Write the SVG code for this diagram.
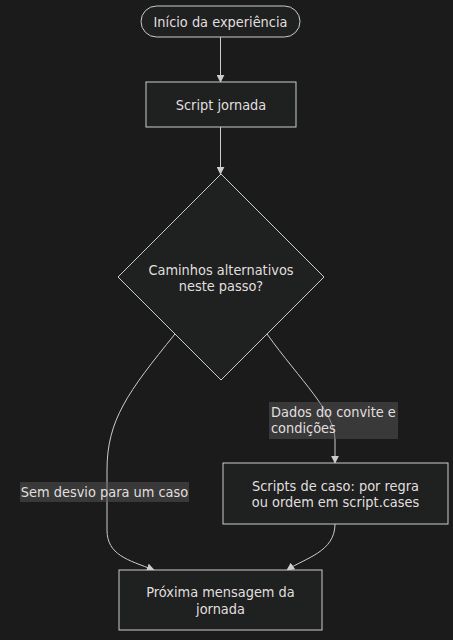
<svg xmlns="http://www.w3.org/2000/svg" width="453" height="640" viewBox="0 0 453 640">
<style>
.bg{fill:#1b1b1b}
.node{fill:#1f2020;stroke:#cccccc;stroke-width:1}
.t{font-family:"DejaVu Sans Condensed","DejaVu Sans",sans-serif;font-size:14.4px;fill:#e0dfdf;text-anchor:middle;dominant-baseline:central}
.lt{text-anchor:start}
.edge{fill:none;stroke:#cccccc;stroke-width:1}
.lbl{fill:#585858;fill-opacity:0.5}
</style>
<defs>
<marker id="arr" viewBox="0 0 10 10" refX="9" refY="5" markerWidth="8" markerHeight="8" markerUnits="userSpaceOnUse" orient="auto">
<path d="M0,0 L10,5 L0,10 z" fill="#cccccc"/>
</marker>
</defs>
<rect class="bg" width="453" height="640"/>
<g id="connectors">
<path class="edge" d="M220.5,37 L220.5,82" marker-end="url(#arr)"/>
<path class="edge" d="M220.5,127 L220.5,174" marker-end="url(#arr)"/>
<path class="edge" d="M175,334 C128,392 107,420 107,470 L107,530 C107,555 128,560 154,570" marker-end="url(#arr)"/>
<path class="edge" d="M267,334 C300,380 335,412 335,440 L335,463" marker-end="url(#arr)"/>
<path class="edge" d="M335,524 C335,552 305,558 287,570" marker-end="url(#arr)"/>
</g>
<g id="edge-labels">
<g id="label-dados">
<rect class="lbl" x="269" y="402" width="129" height="37"/>
<text class="t lt" x="271" y="412">Dados do convite e</text>
<text class="t lt" x="271" y="428">condições</text>
</g>
<g id="label-sem">
<rect class="lbl" x="20" y="482" width="169" height="20"/>
<text class="t" x="104.5" y="492">Sem desvio para um caso</text>
</g>
</g>
<g id="inicio">
<rect class="node" x="141" y="6" width="159" height="31" rx="15.5"/>
<text class="t" x="220.5" y="21.5">Início da experiência</text>
</g>
<g id="script-jornada">
<rect class="node" x="146" y="82" width="150" height="45"/>
<text class="t" x="221" y="104.5">Script jornada</text>
</g>
<g id="caminhos">
<polygon class="node" points="221,174 324,277 221,380 118,277"/>
<text class="t" x="221" y="270">Caminhos alternativos</text>
<text class="t" x="221" y="286">neste passo?</text>
</g>
<g id="scripts-caso">
<rect class="node" x="223" y="463" width="225" height="61"/>
<text class="t" x="335.5" y="486">Scripts de caso: por regra</text>
<text class="t" x="335.5" y="502">ou ordem em script.cases</text>
</g>
<g id="proxima">
<rect class="node" x="119" y="570" width="203" height="60"/>
<text class="t" x="220.5" y="592">Próxima mensagem da</text>
<text class="t" x="220.5" y="609">jornada</text>
</g>
</svg>
